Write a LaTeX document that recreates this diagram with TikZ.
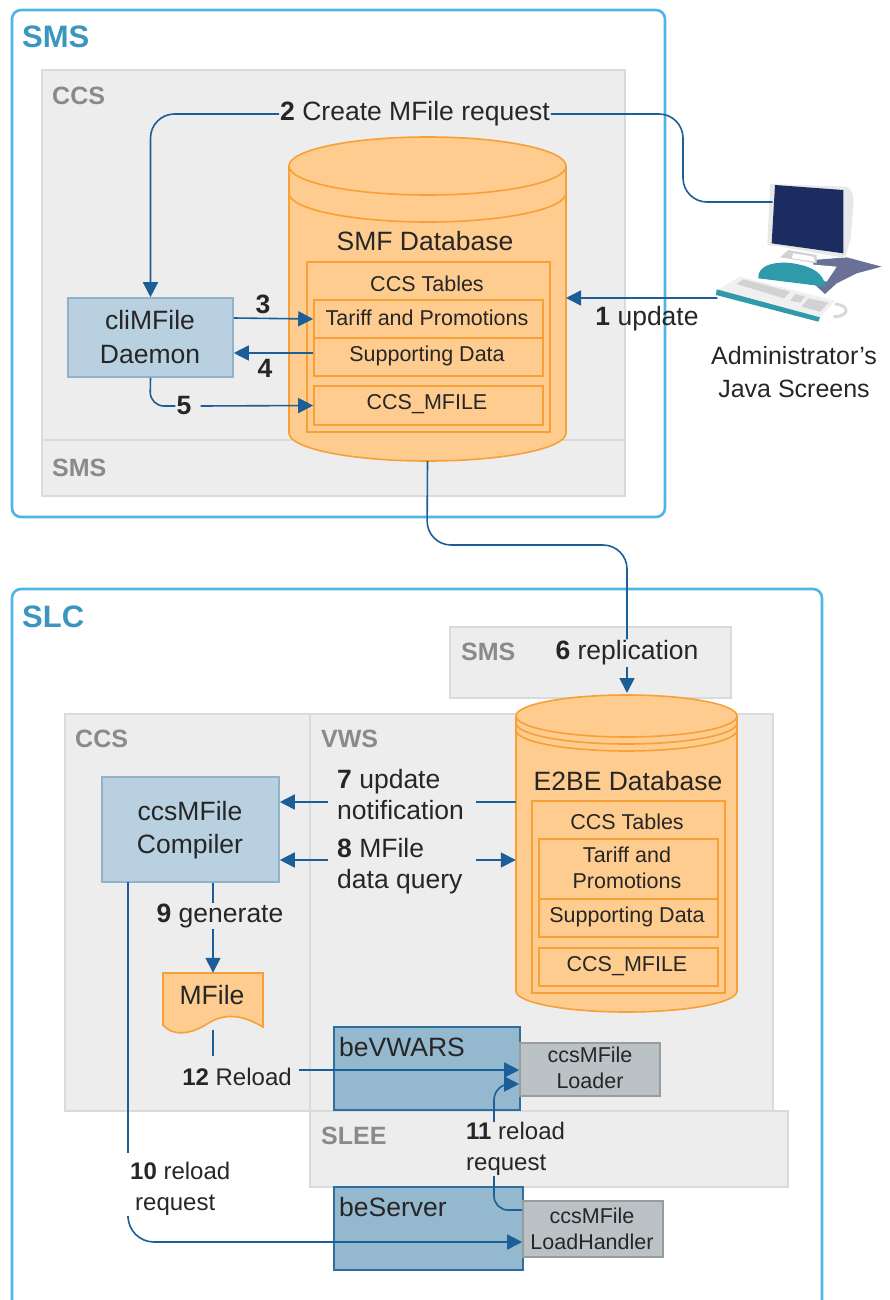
\documentclass[tikz,border=0pt]{standalone}
\usepackage{fontspec}
\setmainfont{Liberation Sans}
\usetikzlibrary{arrows.meta,fit}
\definecolor{framecol}{HTML}{4DB6E6}
\definecolor{titlecol}{HTML}{3A96BE}
\definecolor{regioncol}{HTML}{EDEDED}
\definecolor{regionline}{HTML}{DADADA}
\definecolor{regiontext}{HTML}{8A8A8A}
\definecolor{dbfill}{HTML}{FFCC90}
\definecolor{dbline}{HTML}{F8A036}
\definecolor{procfill}{HTML}{B8D0E0}
\definecolor{procline}{HTML}{92B2CA}
\definecolor{beprocfill}{HTML}{94B8CE}
\definecolor{beprocline}{HTML}{2F6FA0}
\definecolor{loadfill}{HTML}{BBC2C6}
\definecolor{loadline}{HTML}{989C9E}
\definecolor{flowcol}{HTML}{1C5F98}
\definecolor{txtcol}{HTML}{262626}
\definecolor{screencol}{HTML}{1C2C60}
\definecolor{shadowcol}{HTML}{6A7196}
\definecolor{tealcol}{HTML}{2F9AAA}
\tikzset{
	bigtxt/.style={font=\fontsize{26.5}{31}\selectfont,text=txtcol,align=center,inner sep=1pt},
	smalltxt/.style={font=\fontsize{21.5}{25.5}\selectfont,text=txtcol,align=center,inner sep=1pt},
	flowtxt/.style={bigtxt,align=left},
	reqtxt/.style={smalltxt,align=left,anchor=west,font=\fontsize{24}{30}\selectfont},
	frametitle/.style={font=\fontsize{31}{36}\bfseries\selectfont,text=titlecol,anchor=west,inner sep=0pt},
	regiontitle/.style={font=\fontsize{25}{30}\bfseries\selectfont,text=regiontext,anchor=west,inner sep=0pt},
	outerframe/.style={draw=framecol,line width=2.6pt,rounded corners=9pt},
	regionbox/.style={draw=regionline,fill=regioncol,line width=1.5pt,inner sep=0pt},
	tablebox/.style={draw=dbline,line width=1.6pt,inner sep=0pt},
	procbox/.style={draw=procline,fill=procfill,line width=1.6pt,inner sep=0pt},
	beprocbox/.style={draw=beprocline,fill=beprocfill,line width=1.6pt,inner sep=0pt},
	loadbox/.style={draw=loadline,fill=loadfill,line width=1.6pt,inner sep=0pt},
	dbdrum/.style={draw=dbline,fill=dbfill,line width=1.6pt},
	dbarc/.style={draw=dbline,line width=1.6pt},
	flowline/.style={draw=flowcol,line width=1.6pt},
	flow/.style={flowline,-{Triangle[length=15pt,width=15pt]}},
}
\begin{document}
\begin{tikzpicture}[x=1pt,y=-1pt]
\useasboundingbox (0,0) rectangle (890,1300);
% top frame
\node[outerframe,fit={(12,10) (665,517)},inner sep=0pt] (smsframe) {};
\node[frametitle] (smstitle) at (22,37) {SMS};
\node[regionbox,fit={(42,70) (625,440)}] (smsccs) {};
\node[regionbox,fit={(42,440) (625,496)}] (smssms) {};
\node[regiontitle] (smsccstitle) at (52,96) {CCS};
\node[regiontitle] (smssmstitle) at (52,468) {SMS};
% SMF database
\draw[dbdrum] (289,166) -- (289,433) arc[start angle=180,end angle=0,x radius=138.5,y radius=28] -- (566,166) arc[start angle=0,end angle=-180,x radius=138.5,y radius=29] -- cycle;
\draw[dbarc] (289,166) arc[start angle=180,end angle=0,x radius=138.5,y radius=29];
\draw[dbarc] (289,193) arc[start angle=180,end angle=0,x radius=138.5,y radius=29];
\node[fit={(289,137) (566,461)},inner sep=0pt] (smfdb) {};
\node[bigtxt] (smftitle) at (425,241) {SMF Database};
\node[tablebox,fit={(307,262) (550,432)}] (smftables) {};
\node[tablebox,fit={(314,300) (543,338)}] (smftariff) {};
\node[tablebox,fit={(314,338) (543,376)}] (smfsupport) {};
\node[tablebox,fit={(314,386) (543,425)}] (smfmfile) {};
\node[smalltxt] (smftablestxt) at (427,284) {CCS Tables};
\node[smalltxt] (smftarifftxt) at (427,318) {Tariff and Promotions};
\node[smalltxt] (smfsupporttxt) at (427,356) {Supporting Data};
\node[smalltxt] (smfmfiletxt) at (427,404) {CCS\_MFILE};
\node[procbox,fit={(68,298) (233,377)}] (climfile) {};
\node[bigtxt] (climfiletxt) at (150,337) {cliMFile\\[3pt]Daemon};
% administrator screens
\begin{scope}[shift={(680,170)},scale=1/3]
\fill[shadowcol] (400,270) -- (500,262) -- (605,290) -- (530,310) -- (470,340) -- (435,372) -- (400,340) -- cycle;
\fill[gray!18] (270,42) -- (500,50) .. controls (520,60) and (522,80) .. (520,110) -- (512,205) -- (495,264) -- (300,230) -- (262,225) -- cycle;
\fill[screencol] (285,45) -- (490,60) -- (490,250) -- (275,220) -- cycle;
\fill[gray!35] (325,240) -- (410,255) -- (410,280) -- (300,262) -- cycle;
\fill[white] (340,250) -- (400,260) -- (405,275) -- (335,265) -- cycle;
\fill[white] (300,275) -- (470,290) -- (440,335) -- (300,300) -- cycle;
\fill[tealcol] (235,325) .. controls (230,285) and (290,270) .. (350,282) .. controls (400,292) and (430,310) .. (437,350) -- cycle;
\fill[gray!12] (180,320) -- (465,392) -- (420,442) -- (112,360) -- cycle;
\fill[gray!35] (170,342) -- (190,328) -- (330,365) -- (312,385) -- cycle;
\fill[gray!35] (345,372) -- (375,380) -- (360,398) -- (330,392) -- cycle;
\fill[gray!35] (385,385) -- (445,398) -- (420,425) -- (365,410) -- cycle;
\fill[tealcol] (110,358) -- (420,442) -- (415,455) -- (108,375) -- cycle;
\draw[gray!30,line width=3pt] (465,402) .. controls (510,405) and (510,440) .. (460,440);
\coordinate (screenleft) at (278,96);
\coordinate (keyboardleft) at (112,384);
\end{scope}
\node[bigtxt,font=\fontsize{25}{31}\selectfont] (adminscreens) at (794,372) {Administrator's\\[2pt]Java Screens};
% top connectors
\node[flowtxt] (createreq) at (415,114) {\textbf{2} Create MFile request};
\node[flowtxt] (updatetxt) at (647,319) {\textbf{1} update};
\node[flowtxt] (threetxt) at (263,304) {\textbf{3}};
\node[flowtxt] (fourtxt) at (265,368) {\textbf{4}};
\node[flowtxt] (fivetxt) at (184,406) {\textbf{5}};
\draw[flow,rounded corners=24pt] (createreq.west) -| (climfile.north);
\draw[flowline,rounded corners=24pt] (createreq.east) -- (683,114) -- (683,202) -- (screenleft);
\draw[flow] (keyboardleft) -- (566,298);
\draw[flow] (climfile.east |- smftarifftxt) -- (smftariff.west);
\draw[flow] (smfsupport.west |- 312,353) -- (climfile.east |- 312,353);
\draw[flowline,rounded corners=14pt] (climfile.south) -- (150,406) -- (fivetxt.west);
\draw[flow] (fivetxt.east) ++(8,0) -- (smfmfile.west);
% bottom frame
\draw[outerframe] (12,1300) -- (12,589) -- (822,589) -- (822,1300);
\node[frametitle] (slctitle) at (22,617) {SLC};
\node[regionbox,fit={(450,627) (731,698)}] (slcsms) {};
\node[regionbox,fit={(65,714) (310,1111)}] (slcccs) {};
\node[regionbox,fit={(310,714) (773,1111)}] (slcvws) {};
\node[regionbox,fit={(310,1111) (788,1187)}] (slcslee) {};
\node[regiontitle] (slcsmstitle) at (461,652) {SMS};
\node[regiontitle] (slcccstitle) at (75,739) {CCS};
\node[regiontitle] (slcvwstitle) at (321,739) {VWS};
\node[regiontitle] (slcsleetitle) at (321,1136) {SLEE};
% E2BE database
\draw[dbdrum] (516,716) -- (516,991) arc[start angle=180,end angle=0,x radius=110.5,y radius=21] -- (737,716) arc[start angle=0,end angle=-180,x radius=110.5,y radius=21] -- cycle;
\draw[dbarc] (516,716) arc[start angle=180,end angle=0,x radius=110.5,y radius=21];
\draw[dbarc] (516,723) arc[start angle=180,end angle=0,x radius=110.5,y radius=21];
\draw[dbarc] (516,730) arc[start angle=180,end angle=0,x radius=110.5,y radius=21];
\node[fit={(516,695) (737,1012)},inner sep=0pt] (e2bedb) {};
\node[bigtxt] (e2betitle) at (628,781) {E2BE Database};
\node[tablebox,fit={(532,801) (725,993)}] (e2betables) {};
\node[tablebox,fit={(539,839) (718,899)}] (e2betariff) {};
\node[tablebox,fit={(539,899) (718,937)}] (e2besupport) {};
\node[tablebox,fit={(539,948) (718,986)}] (e2bemfile) {};
\node[smalltxt] (e2betablestxt) at (627,822) {CCS Tables};
\node[smalltxt] (e2betarifftxt) at (627,868) {Tariff and\\Promotions};
\node[smalltxt] (e2besupporttxt) at (627,917) {Supporting Data};
\node[smalltxt] (e2bemfiletxt) at (627,966) {CCS\_MFILE};
\node[procbox,fit={(102,777) (279,882)}] (compiler) {};
\node[bigtxt] (compilertxt) at (190,830) {ccsMFile\\[2pt]Compiler};
% MFile document
\draw[dbdrum] (163,973) -- (263,973) -- (263,1027) .. controls (240,1013) and (222,1014) .. (207,1024) .. controls (190,1035) and (172,1036) .. (163,1025) -- cycle;
\node[fit={(163,973) (263,1030)},inner sep=0pt] (mfilebox) {};
\node[bigtxt] (mfiletxt) at (212,995) {MFile};
\node[beprocbox,fit={(334,1027) (520,1110)}] (bevwars) {};
\node[bigtxt,anchor=west] (bevwarstxt) at (338,1047) {beVWARS};
\node[loadbox,fit={(520,1043) (660,1096)}] (loader) {};
\node[smalltxt] (loadertxt) at (590,1068) {ccsMFile\\Loader};
\node[beprocbox,fit={(334,1187) (523,1270)}] (beserver) {};
\node[bigtxt,anchor=west] (beservertxt) at (338,1207) {beServer};
\node[loadbox,fit={(523,1201) (663,1257)}] (loadhandler) {};
\node[smalltxt] (loadhandlertxt) at (592,1229) {ccsMFile\\LoadHandler};
% bottom connectors
\node[flowtxt] (replictxt) at (627,653) {\textbf{6} replication};
\node[flowtxt,anchor=west] (notifytxt) at (336,795) {\textbf{7} update\\notification};
\node[flowtxt,anchor=west] (querytxt) at (336,866) {\textbf{8} MFile\\data query};
\node[flowtxt] (gentxt) at (220,916) {\textbf{9} generate};
\node[reqtxt] (reqtentxt) at (129,1189) {\textbf{10} reload\\[1pt]\hspace{5pt}request};
\node[reqtxt] (reqeleventxt) at (465,1149) {\textbf{11} reload\\[1pt]request};
\node[smalltxt,align=left,font=\fontsize{24}{28}\selectfont] (reloadtxt) at (237,1077) {\textbf{12} Reload};
\draw[flowline,rounded corners=24pt] (smfdb.south) -- (427,545) -- (627,545) -- (replictxt.north);
\draw[flow] (replictxt.south) -- (627,693);
\draw[flowline] (e2bedb.west |- 516,802) -- (476,802);
\draw[flow] (notifytxt.west |- 328,802) ++(-8,0) -- (compiler.east |- 328,802);
\draw[flow] (querytxt.west |- 328,860) ++(-8,0) -- (compiler.east |- 328,860);
\draw[flow] (476,860) -- (e2bedb.west |- 476,860);
\draw[flowline] (mfilebox.north |- compiler.south) -- (mfilebox.north |- gentxt.north);
\draw[flow] (mfilebox.north |- gentxt.south) -- (mfilebox.north);
\draw[flowline,rounded corners=8pt] (mfilebox.south) -- (213,1056);
\draw[flow] (reloadtxt.east |- 304,1070) ++(6,0) -- (loader.west |- 304,1070);
\draw[flow,rounded corners=16pt] (494,1122) -- (494,1084) -- (loader.west |- 494,1084);
\draw[flowline,rounded corners=14pt] (494,1176) -- (494,1210) -- (loadhandler.west |- 494,1210);
\draw[flowline] (128,882) -- (128,1153);
\draw[flow,rounded corners=26pt] (128,1218) -- (128,1242) -- (loadhandler.west |- 128,1242);
\end{tikzpicture}
\end{document}
